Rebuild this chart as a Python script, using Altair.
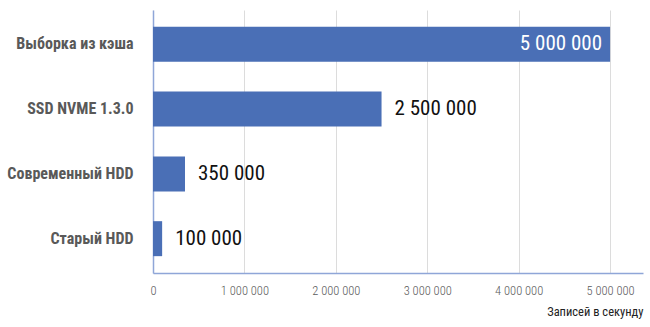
import altair as alt
import pandas as pd

categories = ["Выборка из кэша", "SSD NVME 1.3.0", "Современный HDD", "Старый HDD"]
values = [5000000, 2500000, 350000, 100000]
tick_values = [0, 1000000, 2000000, 3000000, 4000000, 5000000]

df = pd.DataFrame({"cat": categories, "val": values})

FONT = "Roboto Condensed, Liberation Sans Narrow, DejaVu Sans Condensed, Roboto, sans-serif"
BAR = "#4A6FB6"

x = alt.X("val:Q",
          scale=alt.Scale(domain=[0, 5360000], nice=False, zero=True),
          axis=alt.Axis(values=tick_values, format=",d", title="Записей в секунду",
                        titleAnchor="end", titleAlign="right", titleFontSize=12.5,
                        titleFontWeight="normal", titleColor="#222222", titleFont=FONT,
                        titlePadding=9,
                        labelFont=FONT, labelFontSize=12.5, labelFontWeight=300,
                        labelColor="#595959",
                        labelPadding=11, ticks=False, domainColor="#8FA6D8",
                        domainWidth=1.5, grid=True, gridColor="#DCDCDC",
                        labelFlush=False))
y = alt.Y("cat:N", sort=categories,
          scale=alt.Scale(paddingInner=0.46, paddingOuter=0.26),
          axis=alt.Axis(title=None, labelFont=FONT, labelFontSize=16, labelFontWeight="bold",
                        labelColor="#595959", labelPadding=20, ticks=False,
                        domainColor="#8FA6D8", domainWidth=1.5, grid=False))

base = alt.Chart(df)
bars = base.mark_bar(color=BAR).encode(x=x, y=y)
outside = base.transform_filter("datum.val < 4000000").mark_text(
    align="left", dx=13, font=FONT, fontSize=21, fontWeight="normal", color="#111111"
).encode(x="val:Q", y=alt.Y("cat:N", sort=categories), text=alt.Text("val:Q", format=",d"))
inside = base.transform_filter("datum.val >= 4000000").mark_text(
    align="right", dx=-8, font=FONT, fontSize=21, fontWeight="normal", color="white"
).encode(x="val:Q", y=alt.Y("cat:N", sort=categories), text=alt.Text("val:Q", format=",d"))

chart = alt.layer(bars, outside, inside).properties(
    width=490, height=263,
    padding={"left": 153, "top": 10, "right": 7, "bottom": 54},
    autosize="none",
).configure(
    locale={"number": {"decimal": ",", "thousands": "\u00a0", "grouping": [3],
                       "currency": ["", ""]}}
).configure_view(stroke=None)

chart.save("out.html", embed_options={"renderer": "svg", "actions": False})
